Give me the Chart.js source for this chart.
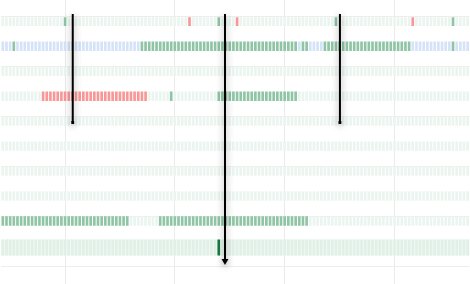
<!DOCTYPE html>
<html>
<head>
<meta charset="utf-8">
<script src="https://cdn.jsdelivr.net/npm/chart.js@4.4.1/dist/chart.umd.min.js"></script>
<style>
  html, body { margin: 0; padding: 0; background: #fff; }
  #wrap { width: 470px; height: 284px; }
</style>
</head>
<body>
<div id="wrap"><canvas id="chart"></canvas></div>
<script>
// time slots 0..127, each row is a list of [from, to, status] runs
const slotCount = 128;
const row0 = [[0,16,'idle'],[17,17,'ok'],[18,50,'idle'],[51,51,'err'],[52,58,'idle'],[59,59,'ok'],[60,63,'idle'],[64,64,'err'],[65,90,'idle'],[91,91,'ok'],[92,111,'idle'],[112,112,'err'],[113,122,'idle'],[123,123,'ok'],[124,127,'idle']];
const row1 = [[0,2,'info'],[3,3,'ok'],[4,37,'info'],[38,80,'ok'],[81,81,'info'],[82,83,'ok'],[84,87,'info'],[88,111,'ok'],[112,122,'info'],[123,123,'ok'],[124,127,'info']];
const row2 = [[0,127,'idle']];
const row3 = [[0,10,'idle'],[11,39,'err'],[40,45,'idle'],[46,46,'ok'],[47,58,'idle'],[59,80,'ok'],[81,127,'idle']];
const row4 = [[0,127,'idle']];
const row5 = [[0,127,'idle']];
const row6 = [[0,127,'idle']];
const row7 = [[0,127,'idle']];
const row8 = [[0,34,'ok'],[35,42,'idle'],[43,83,'ok'],[84,127,'idle']];
const row9 = [[0,58,'idle'],[59,59,'mark'],[60,127,'idle']];
const rows = [row0, row1, row2, row3, row4, row5, row6, row7, row8];
// vertical event markers: slot position, top, bottom, end style
const markerX = [19.1, 60.7, 92.1];
const markerTop = [-0.12, -0.12, -0.12];
const markerBottom = [4.23, 9.78, 4.23];
const markerEnd = ['rect', 'triangle', 'rect'];
const gridSlots = [17, 47, 77, 107];
const gridRows = [0, 2, 4, 6, 8, 10];

const colors = {
  idle: '#ebf5f0',
  ok: '#8fc4a5',
  err: '#f89797',
  info: '#d5e3f8',
  mark: '#157a46'
};

function expand(runs) {
  const out = [];
  runs.forEach(r => { for (let i = r[0]; i <= r[1]; i++) out.push(r[2]); });
  return out;
}

const datasets = [];
rows.forEach((runs, k) => {
  const st = expand(runs);
  datasets.push({
    type: 'bar',
    data: st.map((s, i) => ({ x: i, y: [k, k + 0.35] })),
    backgroundColor: st.map(s => colors[s]),
    barThickness: 2,
    grouped: false,
    order: 5
  });
});

// last, taller row: faint band plus ticks
const st9 = expand(row9);
datasets.push({
  type: 'bar',
  data: st9.map((s, i) => ({ x: i, y: [8.93, 9.54] })),
  backgroundColor: '#f1f8f4',
  categoryPercentage: 1,
  barPercentage: 1,
  grouped: false,
  order: 6
});
datasets.push({
  type: 'bar',
  data: st9.map((s, i) => ({ x: i, y: [8.93, 9.54] })),
  backgroundColor: st9.map(s => s === 'idle' ? '#e1f0e7' : colors[s]),
  barThickness: 2,
  grouped: false,
  order: 5
});

markerX.forEach((x, m) => {
  datasets.push({
    type: 'line',
    data: [{ x: x, y: markerTop[m] }, { x: x, y: markerBottom[m] }],
    borderColor: '#000',
    borderWidth: 2,
    pointRadius: [0, markerEnd[m] === 'triangle' ? 4 : 2],
    pointStyle: markerEnd[m],
    rotation: markerEnd[m] === 'triangle' ? 180 : 0,
    pointBackgroundColor: '#000',
    pointBorderWidth: 0,
    shadow: true,
    order: 0
  });
});

const shadowPlugin = {
  id: 'shadow',
  beforeDatasetDraw(chart, args) {
    if (!chart.data.datasets[args.index].shadow) return;
    const ctx = chart.ctx;
    ctx.save();
    ctx.shadowColor = 'rgba(0,0,0,0.45)';
    ctx.shadowBlur = 7;
    ctx.shadowOffsetY = 2;
  },
  afterDatasetDraw(chart, args) {
    if (!chart.data.datasets[args.index].shadow) return;
    chart.ctx.restore();
  }
};

new Chart(document.getElementById('chart'), {
  type: 'bar',
  data: { datasets: datasets },
  plugins: [shadowPlugin],
  options: {
    responsive: true,
    maintainAspectRatio: false,
    animation: false,
    layout: { autoPadding: false, padding: { left: 1, right: 0.5, top: 0, bottom: 0 } },
    plugins: { legend: { display: false }, tooltip: { enabled: false } },
    scales: {
      x: {
        type: 'linear',
        min: -0.5,
        max: slotCount - 0.5,
        offset: false,
        afterBuildTicks: s => { s.ticks = gridSlots.map(v => ({ value: v })); },
        ticks: { display: false },
        grid: { color: '#ebebeb', drawTicks: false, offset: false },
        border: { display: false }
      },
      y: {
        type: 'linear',
        reverse: true,
        min: -0.68,
        max: 10.7,
        afterBuildTicks: s => { s.ticks = gridRows.map(v => ({ value: v })); },
        ticks: { display: false },
        grid: { color: '#ededed', drawTicks: false },
        border: { display: false }
      }
    }
  }
});
</script>
</body>
</html>
